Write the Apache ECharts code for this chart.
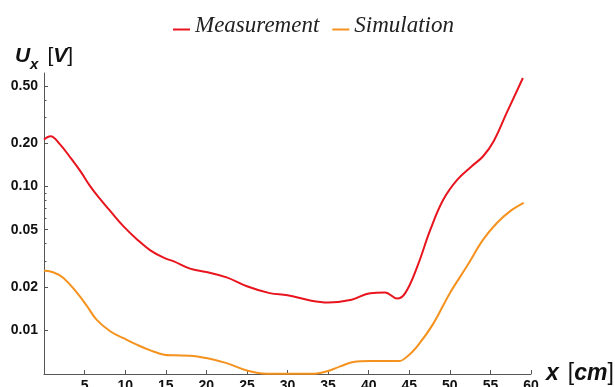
<!DOCTYPE html>
<html>
<head>
<meta charset="utf-8">
<script src="https://cdn.jsdelivr.net/npm/echarts@6/dist/echarts.min.js"></script>
<style>
html,body{margin:0;padding:0;background:#fff;}
#chart{width:615px;height:387px;}
</style>
</head>
<body>
<div id="chart"></div>
<script>
// ---- data ----
const seriesNames = ['Measurement', 'Simulation'];

const measX = [0, 0.8, 2.0, 3.3, 4.5, 5.7, 7, 8.2, 9.8, 11.5, 13.1, 14.8, 16, 18, 20, 22.5, 25, 27.8, 30, 32.8, 35, 37.9, 40.2, 42, 43.5, 44.5, 46, 47.6, 49.2, 50.9, 52.7, 54.1, 55.4, 57, 59];
const measY = [0.212, 0.223, 0.195, 0.157, 0.127, 0.100, 0.0805, 0.067, 0.0527, 0.0426, 0.0359, 0.0318, 0.0301, 0.0268, 0.0254, 0.0233, 0.0202, 0.0181, 0.0175, 0.0161, 0.0156, 0.0163, 0.0181, 0.0183, 0.0166, 0.0181, 0.0278, 0.050, 0.081, 0.111, 0.138, 0.162, 0.206, 0.324, 0.567];

const simX = [0, 1.2, 2.4, 4.1, 5.3, 6.5, 8.2, 9.8, 11.5, 13.1, 14.8, 16, 18, 20, 22.5, 25, 27.4, 30, 32.8, 34, 35.1, 36.5, 38.1, 40.2, 42.2, 43.7, 45, 46.3, 48, 50, 52.1, 54.1, 55.8, 57.4, 59.1];
const simY = [0.026, 0.0252, 0.0231, 0.0181, 0.0147, 0.0118, 0.0098, 0.0088, 0.0079, 0.00724, 0.00676, 0.00669, 0.00665, 0.0064, 0.0059, 0.00525, 0.00498, 0.00497, 0.00497, 0.00504, 0.00522, 0.0056, 0.0060, 0.0061, 0.0061, 0.0061, 0.00676, 0.00815, 0.0112, 0.0181, 0.0278, 0.0426, 0.0556, 0.067, 0.0767];

const yMajorTicks = [0.01, 0.02, 0.05, 0.1, 0.2, 0.5];
const yMinorTicks = [0.03, 0.04, 0.06, 0.07, 0.08, 0.09, 0.3, 0.4];
const xTickStep = 5;
const xRange = [0, 60];
const yRange = [0.00496, 0.614];

// ---- chart ----
const chart = echarts.init(document.getElementById('chart'), null, {renderer: 'canvas'});
const lg = v => Math.log10(v);
const pairs = (xs, ys) => xs.map((x, i) => [x, ys[i]]);

const axisColor = '#555';
const sans = '"Liberation Sans", Arial, sans-serif';
const labelFont = {fontFamily: sans, fontWeight: 'bold', fontSize: 14, color: '#111'};
const nb = {fontFamily: sans, color: '#111'};
const mix = (a, b) => Object.assign({}, a, b);

const option = {
  animation: false,
  backgroundColor: '#fff',
  grid: {left: 44, right: 84, top: 73, bottom: 13, containLabel: false, outerBoundsMode: 'none'},
  legend: {
    data: seriesNames,
    left: 173,
    top: 14,
    padding: 0,
    itemGap: 13,
    itemWidth: 17,
    itemHeight: 10,
    icon: 'path://M0,0 M0,8 L17,8 L17,10 L0,10 Z',
    textStyle: {fontFamily: '"Liberation Serif", "Times New Roman", serif', fontStyle: 'italic', fontSize: 23, color: '#222'}
  },
  xAxis: {
    type: 'value',
    min: xRange[0],
    max: xRange[1],
    interval: xTickStep,
    name: '{x|x}{bl|[}{c|cm}{b|]}',
    nameLocation: 'end',
    nameGap: 15,
    nameTextStyle: {
      align: 'left', verticalAlign: 'middle',
      rich: {
        x: mix(nb, {fontSize: 23, fontWeight: 'bold', fontStyle: 'italic'}),
        bl: mix(nb, {fontSize: 23, fontWeight: 'normal', padding: [0, 0, 0, 9]}),
        b: mix(nb, {fontSize: 23, fontWeight: 'normal'}),
        c: mix(nb, {fontSize: 23, fontWeight: 'bold', fontStyle: 'italic'})
      }
    },
    axisLine: {show: true, lineStyle: {color: axisColor, width: 1}},
    axisTick: {show: true, inside: true, length: 4, lineStyle: {color: axisColor}},
    axisLabel: mix(labelFont, {margin: 5, formatter: v => (v === 0 ? '' : String(v))}),
    splitLine: {show: false}
  },
  yAxis: [
    {
      type: 'log',
      logBase: 10,
      min: yRange[0],
      max: yRange[1],
      position: 'left',
      name: '{u|U}{s|x}{bl|[}{v|V}{b|]}',
      nameLocation: 'end',
      nameGap: 1,
      nameTextStyle: {
        align: 'center',
        rich: {
          u: mix(nb, {fontSize: 21, fontWeight: 'bold', fontStyle: 'italic', verticalAlign: 'top', lineHeight: 26}),
          s: mix(nb, {fontSize: 15, fontWeight: 'bold', fontStyle: 'italic', verticalAlign: 'bottom', lineHeight: 26}),
          bl: mix(nb, {fontSize: 21, fontWeight: 'normal', verticalAlign: 'top', lineHeight: 26, padding: [0, 0, 0, 9]}),
          b: mix(nb, {fontSize: 21, fontWeight: 'normal', verticalAlign: 'top', lineHeight: 26}),
          v: mix(nb, {fontSize: 21, fontWeight: 'bold', fontStyle: 'italic', verticalAlign: 'top', lineHeight: 26})
        }
      },
      axisLine: {show: true, lineStyle: {color: axisColor, width: 1}},
      axisTick: {show: false},
      axisLabel: {show: false},
      splitLine: {show: false},
      minorTick: {show: false}
    },
    {
      type: 'value',
      min: lg(yRange[0]),
      max: lg(yRange[1]),
      position: 'left',
      offset: 0,
      axisLine: {show: false},
      axisTick: {show: true, inside: true, length: 4, lineStyle: {color: axisColor}, customValues: yMajorTicks.map(lg)},
      axisLabel: mix(labelFont, {show: true, margin: 6, customValues: yMajorTicks.map(lg), formatter: v => Math.pow(10, v).toFixed(2)}),
      splitLine: {show: false}
    },
    {
      type: 'value',
      min: lg(yRange[0]),
      max: lg(yRange[1]),
      position: 'left',
      offset: 0,
      axisLine: {show: false},
      axisTick: {show: true, inside: true, length: 2.5, lineStyle: {color: axisColor}, customValues: yMinorTicks.map(lg)},
      axisLabel: {show: false},
      splitLine: {show: false}
    }
  ],
  series: [
    {
      name: seriesNames[0],
      type: 'line',
      yAxisIndex: 0,
      data: pairs(measX, measY),
      smooth: 0.4,
      showSymbol: false,
      clip: true,
      color: '#e8141e',
      lineStyle: {width: 2, color: '#e8141e'}
    },
    {
      name: seriesNames[1],
      type: 'line',
      yAxisIndex: 0,
      data: pairs(simX, simY),
      smooth: 0.4,
      showSymbol: false,
      clip: true,
      color: '#f5921e',
      lineStyle: {width: 2, color: '#f5921e'}
    }
  ]
};
chart.setOption(option);
</script>
</body>
</html>
